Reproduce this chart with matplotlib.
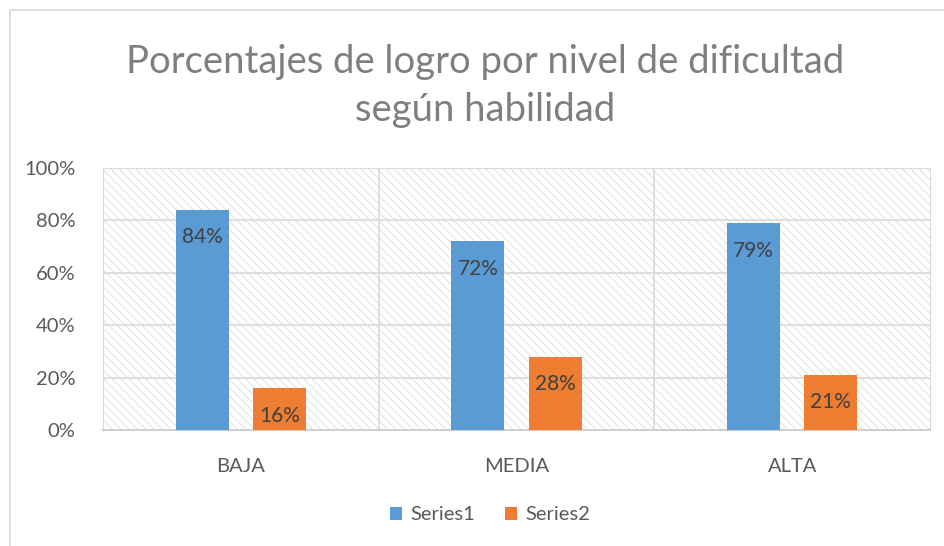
import numpy as np
import matplotlib.pyplot as plt
from matplotlib.patches import Rectangle

plt.rcParams['font.family'] = ['Lato', 'DejaVu Sans']
plt.rcParams['hatch.linewidth'] = 0.5
plt.rcParams['hatch.color'] = '#d4d4d4'

categories = ['BAJA', 'MEDIA', 'ALTA']
series1 = [84, 72, 79]
series2 = [16, 28, 21]
yticks = [0, 20, 40, 60, 80, 100]

fig = plt.figure(figsize=(9.45, 5.46), dpi=100)
# chart border
fig.patches.append(Rectangle((10/945, -0.1), 2, 1.1 - 10/546, transform=fig.transFigure,
                             fill=False, edgecolor='#d9d9d9', linewidth=1.2))
ax = fig.add_axes([103/945, 1 - 430/546, 827/945, 262/546])

x = np.arange(len(categories))
w = 0.192
off = 0.14

# hatched plot area background
ax.add_patch(Rectangle((-0.5, 0), 3, 100, facecolor='white', hatch='\\\\\\\\',
                       edgecolor='#d4d4d4', linewidth=0, zorder=0))

b1 = ax.bar(x - off, series1, w, color='#5B9BD5', label='Series1', zorder=3)
b2 = ax.bar(x + off, series2, w, color='#ED7D31', label='Series2', zorder=3)

for bars, vals in ((b1, series1), (b2, series2)):
    for r, v in zip(bars, vals):
        ax.text(r.get_x() + r.get_width() / 2, v - 10.5, f'{v}%', ha='center', va='center',
                fontsize=15, color='#404040', zorder=4)

ax.set_xlim(-0.5, 2.5)
ax.set_ylim(0, 100)
ax.set_yticks(yticks)
ax.set_yticklabels([f'{t}%' for t in yticks])
ax.set_xticks(x)
ax.set_xticklabels(categories)
ax.tick_params(length=0, labelsize=14.5, labelcolor='#595959')
ax.tick_params(axis='x', pad=20)
ax.tick_params(axis='y', pad=20)

for t in yticks[1:]:
    ax.axhline(t, color='#d9d9d9', linewidth=1.2, zorder=1)
for s in (0.5, 1.5):
    ax.axvline(s, color='#d9d9d9', linewidth=1.2, zorder=1)
for side in ('top', 'right', 'left'):
    ax.spines[side].set_color('#d9d9d9')
ax.spines['bottom'].set_color('#d0d0d0')
ax.spines['bottom'].set_linewidth(1.5)

fig.suptitle('Porcentajes de logro por nivel de dificultad\nsegún habilidad', x=485/945,
             y=1 - 44/546, fontsize=27.5, color='#7f7f7f', linespacing=1.4)

fig.legend(loc='center', bbox_to_anchor=(490/945, 1 - 515/546), ncol=2, frameon=False,
           fontsize=14.5, labelcolor='#595959', handlelength=0.6, handleheight=0.6,
           columnspacing=1.5, handletextpad=0.4)

fig.savefig('out.png', dpi=100)
